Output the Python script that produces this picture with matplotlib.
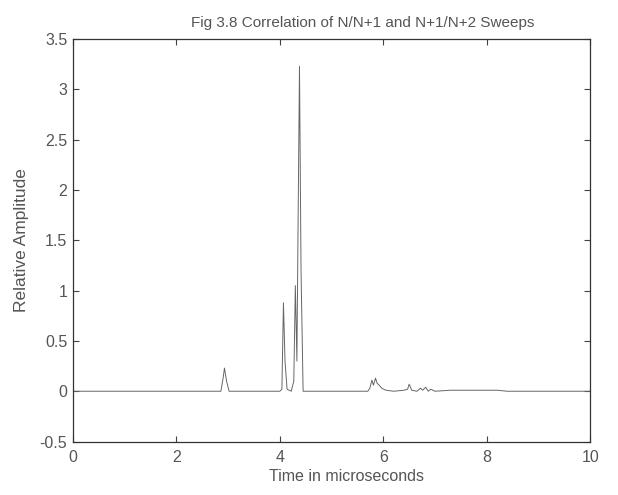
import matplotlib
matplotlib.use("Agg")
import matplotlib.pyplot as plt

plt.rcParams['font.family'] = ['Liberation Sans', 'DejaVu Sans']

# Correlation trace (time in microseconds, relative amplitude)
time_us = [0.0, 2.86, 2.90, 2.93, 2.97, 3.02, 4.00, 4.04, 4.07, 4.10, 4.14,
           4.22, 4.27, 4.30, 4.33, 4.35, 4.38, 4.41, 4.45, 5.70, 5.74,
           5.78, 5.81, 5.85, 5.88, 5.92, 5.97, 6.05, 6.20, 6.40, 6.47,
           6.50, 6.55, 6.65, 6.72, 6.76, 6.82, 6.87, 6.92, 7.00, 7.30,
           8.20, 8.40, 10.0]
amplitude = [0.0, 0.0, 0.12, 0.23, 0.10, 0.0, 0.0, 0.02, 0.88, 0.30, 0.02,
             0.0, 0.10, 1.05, 0.30, 1.50, 3.23, 1.20, 0.0, 0.0, 0.03,
             0.11, 0.06, 0.13, 0.08, 0.06, 0.03, 0.01, 0.0, 0.01, 0.02,
             0.07, 0.01, 0.0, 0.03, 0.01, 0.04, 0.0, 0.02, 0.0, 0.01,
             0.01, 0.0, 0.0]

x_ticks = [0, 2, 4, 6, 8, 10]
y_ticks = [-0.5, 0, 0.5, 1, 1.5, 2, 2.5, 3, 3.5]
y_tick_labels = ["-0.5", "0", "0.5", "1", "1.5", "2", "2.5", "3", "3.5"]

fig = plt.figure(figsize=(6.18, 4.95), dpi=100)
ax = fig.add_axes([0.118, 0.108, 0.837, 0.813])

ax.plot(time_us, amplitude, color="#666666", linewidth=0.7)

ax.set_xlim(0, 10)
ax.set_ylim(-0.5, 3.5)
ax.set_xticks(x_ticks)
ax.set_yticks(y_ticks)
ax.set_yticklabels(y_tick_labels)
ax.tick_params(direction="in", top=True, right=True, length=4,
               labelsize=11.5, labelcolor="#555555", color="#444444")
ax.tick_params(axis="x", pad=6)
ax.tick_params(axis="y", pad=4)
for s in ax.spines.values():
    s.set_color("#333333")
    s.set_linewidth(0.9)

ax.set_title("Fig 3.8 Correlation of N/N+1 and N+1/N+2 Sweeps",
             fontsize=11, color="#555555", pad=9, x=0.56)
ax.set_xlabel("Time in microseconds", fontsize=11.5, color="#555555",
              labelpad=3, x=0.528)
ax.set_ylabel("Relative Amplitude", fontsize=12.5, color="#555555", labelpad=8)

fig.savefig("out.png", dpi=100, facecolor="white")
